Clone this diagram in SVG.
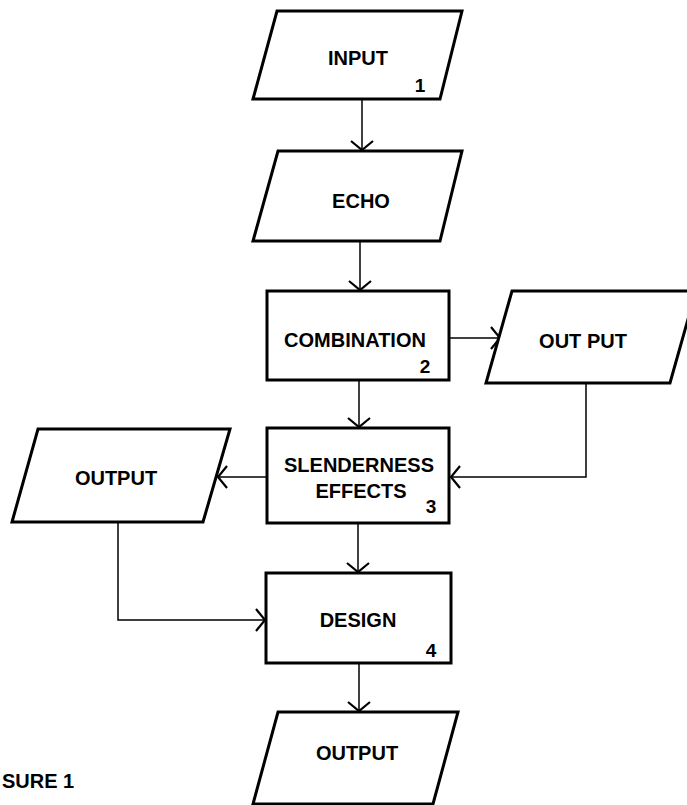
<svg xmlns="http://www.w3.org/2000/svg" width="687" height="805" viewBox="0 0 687 805">
<defs>
<style>
.box{fill:#fff;stroke:#000;stroke-width:3;stroke-linejoin:miter}
.ln{fill:none;stroke:#000;stroke-width:1.5}
.t{font-family:"Liberation Sans",Arial,sans-serif;font-weight:bold;font-size:20px;fill:#000}
.c{text-anchor:middle}
.n{font-family:"Liberation Sans",Arial,sans-serif;font-weight:bold;font-size:19px;fill:#000;text-anchor:middle}
</style>
<marker id="ah" viewBox="-12 -13 14 26" markerWidth="14" markerHeight="26" refX="0" refY="0" orient="auto" markerUnits="userSpaceOnUse">
<path d="M-9,-11 L0,0 L-9,11" fill="none" stroke="#000" stroke-width="2.2"/>
</marker>
</defs>
<rect width="687" height="805" fill="#fff"/>
<g id="connectors">
<line class="ln" x1="362" y1="99" x2="362" y2="150" marker-end="url(#ah)"/>
<line class="ln" x1="360" y1="242" x2="360" y2="290" marker-end="url(#ah)"/>
<line class="ln" x1="443" y1="338" x2="500" y2="338" marker-end="url(#ah)"/>
<line class="ln" x1="359" y1="380" x2="359" y2="427" marker-end="url(#ah)"/>
<polyline class="ln" points="586,383 586,477 451,477" marker-end="url(#ah)"/>
<line class="ln" x1="267" y1="477" x2="218" y2="477" marker-end="url(#ah)"/>
<line class="ln" x1="358" y1="523" x2="358" y2="572" marker-end="url(#ah)"/>
<polyline class="ln" points="118,522 118,620 265,620" marker-end="url(#ah)"/>
<line class="ln" x1="359" y1="663" x2="359" y2="711" marker-end="url(#ah)"/>
</g>
<g id="input">
<polygon class="box" points="277,11 462,11 440,99 253,99"/>
<text class="t c" x="358" y="65">INPUT</text>
<text class="n" x="420" y="92">1</text>
</g>
<g id="echo">
<polygon class="box" points="278,151 462,151 440,241 253,241"/>
<text class="t c" x="361" y="208">ECHO</text>
</g>
<g id="combination">
<rect class="box" x="267" y="291" width="182" height="89"/>
<text class="t c" x="355" y="347">COMBINATION</text>
<text class="n" x="425" y="373">2</text>
</g>
<g id="output-right">
<polygon class="box" points="512,291 696,291 670,383 486,383"/>
<text class="t c" x="583" y="348">OUT PUT</text>
</g>
<g id="slenderness">
<rect class="box" x="267" y="428" width="182" height="95"/>
<text class="t c" x="359" y="472">SLENDERNESS</text>
<text class="t c" x="361" y="498">EFFECTS</text>
<text class="n" x="431" y="513">3</text>
</g>
<g id="output-left">
<polygon class="box" points="38,429 230,429 203,522 12,522"/>
<text class="t c" x="116" y="485">OUTPUT</text>
</g>
<g id="design">
<rect class="box" x="266" y="573" width="185" height="90"/>
<text class="t c" x="358" y="627">DESIGN</text>
<text class="n" x="431" y="657">4</text>
</g>
<g id="output-bottom">
<polygon class="box" points="278,712 458,712 433,804 253,804"/>
<text class="t c" x="357" y="760">OUTPUT</text>
</g>
<text class="t" x="2" y="788" font-size="18">SURE 1</text>
</svg>
